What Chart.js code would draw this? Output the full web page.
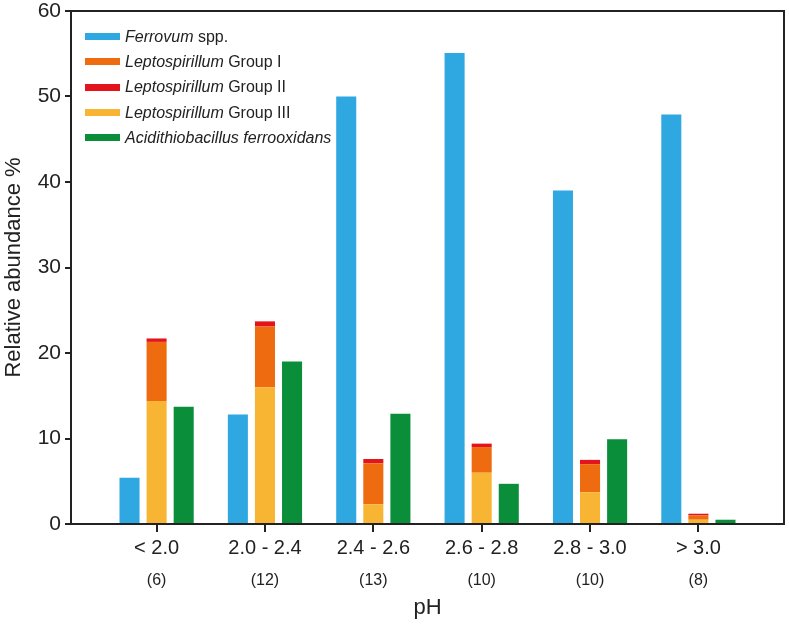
<!DOCTYPE html>
<html>
<head>
<meta charset="utf-8">
<script src="https://cdn.jsdelivr.net/npm/chart.js@4"></script>
<style>
  body { margin: 0; background: #fff; font-family: "Liberation Sans", Arial, sans-serif; }
  #wrap { position: relative; width: 789px; height: 626px; }
  #legend { position: absolute; }
  .lg-row { display: flex; align-items: center; height: 25.3px; font-size: 16px; color: #222; white-space: nowrap; }
  .lg-sw { width: 35px; height: 7px; margin-right: 5px; flex: none; }
</style>
</head>
<body>
<div id="wrap">
  <canvas id="chart" width="789" height="626"></canvas>
  <div id="legend"></div>
</div>
<script>
// ===== data =====
const categories = ['< 2.0', '2.0 - 2.4', '2.4 - 2.6', '2.6 - 2.8', '2.8 - 3.0', '> 3.0']
const sampleCounts = ['(6)', '(12)', '(13)', '(10)', '(10)', '(8)']
const yTicks = [0, 10, 20, 30, 40, 50, 60]

const ferrovum = [5.4, 12.8, 50.0, 55.1, 39.0, 47.9]
const leptoI = [6.9, 7.1, 4.8, 3.0, 3.3, 0.5]
const leptoII = [0.4, 0.6, 0.5, 0.4, 0.5, 0.2]
const leptoIII = [14.4, 16.0, 2.3, 6.0, 3.7, 0.5]
const acidithio = [13.7, 19.0, 12.9, 4.7, 9.9, 0.5]

const COLORS = {
  ferrovum: '#2FA8E1',
  leptoI: '#EE6B10',
  leptoII: '#E3141B',
  leptoIII: '#F8B533',
  acidithio: '#0B8E3A',
}

// legend order (italic part + plain part)
const legendItems = [
  { key: 'ferrovum', it: 'Ferrovum', rest: ' spp.' },
  { key: 'leptoI', it: 'Leptospirillum', rest: ' Group I' },
  { key: 'leptoII', it: 'Leptospirillum', rest: ' Group II' },
  { key: 'leptoIII', it: 'Leptospirillum', rest: ' Group III' },
  { key: 'acidithio', it: 'Acidithiobacillus ferrooxidans', rest: '' },
]

const toPoints = arr => arr.map((v, i) => ({ x: i, y: v }))
const catTicks = s => { s.ticks = categories.map((_, i) => ({ value: i })) }

function bar(label, data, color, stack) {
  return {
    label, data: toPoints(data), stack,
    backgroundColor: color, borderWidth: 0,
    categoryPercentage: 0.75, barPercentage: 0.74,
  }
}

// stack order: yellow bottom, orange, red on top
const datasets = [
  bar('Ferrovum spp.', ferrovum, COLORS.ferrovum, 'a'),
  bar('Leptospirillum Group III', leptoIII, COLORS.leptoIII, 'b'),
  bar('Leptospirillum Group I', leptoI, COLORS.leptoI, 'b'),
  bar('Leptospirillum Group II', leptoII, COLORS.leptoII, 'b'),
  bar('Acidithiobacillus ferrooxidans', acidithio, COLORS.acidithio, 'c'),
]

const axisColor = '#222'

// top/right frame + x tick marks
const framePlugin = {
  id: 'frame',
  afterDraw(chart) {
    const { ctx, chartArea: a } = chart
    const xs = chart.scales.x
    ctx.save()
    ctx.strokeStyle = axisColor
    ctx.lineWidth = 2
    ctx.beginPath()
    ctx.moveTo(a.left, a.top)
    ctx.lineTo(a.right, a.top)
    ctx.lineTo(a.right, a.bottom)
    xs.ticks.forEach((t, i) => {
      const px = Math.round(xs.getPixelForTick(i))
      ctx.moveTo(px, a.bottom)
      ctx.lineTo(px, a.bottom + 8)
    })
    ctx.stroke()
    ctx.restore()
  }
}

const xRange = { min: -0.79, max: 5.79, offset: false }

const chart = new Chart(document.getElementById('chart'), {
  type: 'bar',
  data: { datasets },
  options: {
    responsive: false,
    animation: false,
    layout: { padding: { top: 11, right: 5, left: 0, bottom: 5 } },
    plugins: { legend: { display: false }, tooltip: { enabled: false } },
    scales: {
      x: {
        type: 'linear', ...xRange, stacked: true,
        afterBuildTicks: catTicks,
        afterFit: s => { s.height = 36 },
        ticks: { callback: (v, i) => categories[i], font: { size: 20 }, color: axisColor, padding: 4, maxRotation: 0, autoSkip: false },
        grid: { offset: false, drawOnChartArea: false, drawTicks: true, tickLength: 8, color: axisColor, lineWidth: 2 },
        border: { display: true, color: axisColor, width: 2 },
      },
      x2: {
        type: 'linear', position: 'bottom', ...xRange,
        afterBuildTicks: catTicks,
        afterFit: s => { s.height = 61 },
        ticks: { callback: (v, i) => sampleCounts[i], font: { size: 16 }, color: axisColor, padding: 11, maxRotation: 0, autoSkip: false },
        grid: { offset: false, display: false, drawTicks: false },
        border: { display: false },
        title: { display: true, text: 'pH', font: { size: 22 }, color: axisColor, padding: { top: 6, bottom: 0 } },
      },
      y: {
        min: 0, max: 60, stacked: true,
        afterBuildTicks: s => { s.ticks = yTicks.map(v => ({ value: v })) },
        afterFit: s => { s.width = 71; s.paddingTop = 0; s.paddingBottom = 0 },
        ticks: { font: { size: 21 }, color: axisColor, padding: 4 },
        grid: { drawOnChartArea: false, tickLength: 6, color: axisColor, lineWidth: 2 },
        border: { color: axisColor, width: 2 },
        title: { display: true, text: 'Relative abundance %', font: { size: 22 }, color: axisColor, padding: { top: 1, bottom: 0 } },
      },
    },
  },
  plugins: [framePlugin],
})

// legend (html, mixed italic)
const lg = document.getElementById('legend')
lg.style.left = (chart.chartArea.left + 14) + 'px'
lg.style.top = (chart.chartArea.top + 13) + 'px'
lg.innerHTML = legendItems.map(it => `
  <div class="lg-row">
    <span class="lg-sw" style="background:${COLORS[it.key]}"></span>
    <span><i>${it.it}</i>${it.rest}</span>
  </div>`).join('')
</script>
</body>
</html>
